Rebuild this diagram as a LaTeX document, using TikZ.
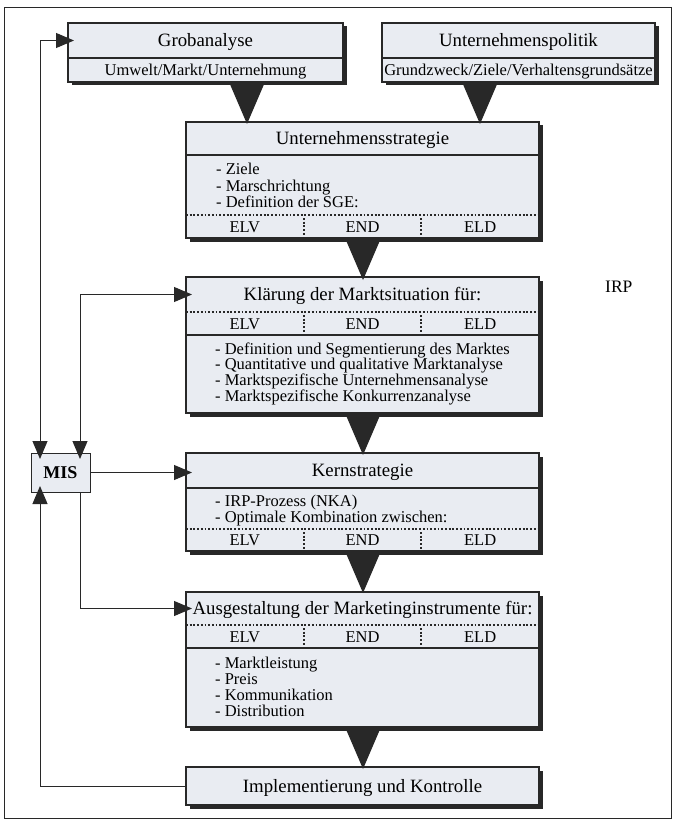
\documentclass[tikz,border=0pt]{standalone}
\usepackage{fontspec}
\setmainfont{Liberation Serif}
\usetikzlibrary{arrows.meta,shadows}

\definecolor{panelfill}{RGB}{233,236,242}
\definecolor{ink}{RGB}{40,40,40}

\tikzset{
  panel/.style={draw=ink, line width=1.2pt, fill=panelfill, anchor=north west,
    inner sep=0pt, outer sep=0pt,
    drop shadow={shadow xshift=3.5pt, shadow yshift=-3.5pt, opacity=1, fill=ink}},
  misbox/.style={draw=ink, line width=1pt, fill=panelfill, anchor=north west,
    inner sep=0pt, outer sep=0pt, font=\fontsize{18}{20}\selectfont\bfseries},
  titlecell/.style={anchor=north west, inner sep=0pt, outer sep=0pt,
    text height=12pt, text depth=0pt, font=\fontsize{18.8}{21}\selectfont},
  rowcell/.style={anchor=north west, inner sep=0pt, outer sep=0pt,
    text height=11pt, text depth=0pt, font=\fontsize{16.5}{18}\selectfont},
  listline/.style={anchor=base west, inner sep=0pt, font=\fontsize{16.5}{18}\selectfont},
  divider/.style={draw=ink, line width=1.2pt},
  dotrule/.style={draw=ink, line width=1.8pt, dash pattern=on 1.8pt off 1.9pt},
  flowtri/.style={fill=ink},
  feedline/.style={draw=ink, line width=1pt, -{Triangle[length=18pt,width=15pt]}, shorten >=-6pt},
  twoway/.style={feedline, {Triangle[length=18pt,width=15pt]}-{Triangle[length=18pt,width=15pt]}, shorten <=-6pt},
}

\begin{document}
\begin{tikzpicture}[x=1pt,y=-1pt]

        \useasboundingbox (0,0) rectangle (675,821);
        \draw[ink, line width=0.8pt] (4,7) rectangle (671,818);

        \def\boxw{353pt}
        \def\colw{117.67pt}

        % Grobanalyse
        \node[panel, minimum width=275pt, minimum height=59pt] (grob) at (68,23) {};
        \node[titlecell, minimum width=275pt, minimum height=35pt] (grobT) at (68,23) {Grobanalyse};
        \node[rowcell, minimum width=275pt, minimum height=24pt] (grobS) at (68,58) {Umwelt/Markt/Unternehmung};
        \draw[divider] (grobS.north west) -- (grobS.north east);

        % Unternehmenspolitik
        \node[panel, minimum width=273pt, minimum height=59pt] (upol) at (382,23) {};
        \node[titlecell, minimum width=273pt, minimum height=35pt] (upolT) at (382,23) {Unternehmenspolitik};
        \node[rowcell, minimum width=273pt, minimum height=24pt] (upolS) at (382,58) {Grundzweck/Ziele/Verhaltensgrundsätze};
        \draw[divider] (upolS.north west) -- (upolS.north east);

        % Unternehmensstrategie
        \node[panel, minimum width=\boxw, minimum height=116pt] (ustr) at (186,122) {};
        \node[titlecell, minimum width=\boxw, minimum height=33pt] (ustrT) at (186,122) {Unternehmensstrategie};
        \draw[divider] (ustrT.south west) -- (ustrT.south east);
        \foreach \txt [count=\i from 0] in {Ziele,Marschrichtung,Definition der SGE:}
          \node[listline] (ustr-l\i) at (216,175+16*\i) {- \txt};
        \foreach \lbl [count=\k from 0] in {ELV,END,ELD}
          \node[rowcell, minimum width=\colw, minimum height=23pt] (ustr-\lbl) at (186+117.67*\k,215) {\lbl};
        \draw[dotrule] (ustr-ELV.north west) -- (ustr-ELD.north east);
        \draw[dotrule, shorten <=3pt, shorten >=2pt] (ustr-ELV.north east) -- (ustr-ELV.south east);
        \draw[dotrule, shorten <=3pt, shorten >=2pt] (ustr-END.north east) -- (ustr-END.south east);

        % Klaerung der Marktsituation
        \node[panel, minimum width=\boxw, minimum height=136pt] (klar) at (186,277) {};
        \node[titlecell, minimum width=\boxw, minimum height=35pt] (klarT) at (186,277) {Klärung der Marktsituation für:};
        \foreach \lbl [count=\k from 0] in {ELV,END,ELD}
          \node[rowcell, minimum width=\colw, minimum height=23pt] (klar-\lbl) at (186+117.67*\k,312) {\lbl};
        \draw[dotrule] (klar-ELV.north west) -- (klar-ELD.north east);
        \draw[dotrule, shorten <=3pt, shorten >=2pt] (klar-ELV.north east) -- (klar-ELV.south east);
        \draw[dotrule, shorten <=3pt, shorten >=2pt] (klar-END.north east) -- (klar-END.south east);
        \draw[divider] (klar-ELV.south west) -- (klar-ELD.south east);
        \foreach \txt [count=\i from 0] in {Definition und Segmentierung des Marktes,
            Quantitative und qualitative Marktanalyse,
            Marktspezifische Unternehmensanalyse,
            Marktspezifische Konkurrenzanalyse}
          \node[listline] (klar-l\i) at (215,354+15.7*\i) {- \txt};

        % Kernstrategie
        \node[panel, minimum width=\boxw, minimum height=98pt] (kern) at (186,453) {};
        \node[titlecell, minimum width=\boxw, minimum height=35pt] (kernT) at (186,453) {Kernstrategie};
        \draw[divider] (kernT.south west) -- (kernT.south east);
        \foreach \txt [count=\i from 0] in {IRP-Prozess (NKA),Optimale Kombination zwischen:}
          \node[listline] (kern-l\i) at (215,506+16*\i) {- \txt};
        \foreach \lbl [count=\k from 0] in {ELV,END,ELD}
          \node[rowcell, minimum width=\colw, minimum height=22pt] (kern-\lbl) at (186+117.67*\k,529) {\lbl};
        \draw[dotrule] (kern-ELV.north west) -- (kern-ELD.north east);
        \draw[dotrule, shorten <=3pt, shorten >=2pt] (kern-ELV.north east) -- (kern-ELV.south east);
        \draw[dotrule, shorten <=3pt, shorten >=2pt] (kern-END.north east) -- (kern-END.south east);

        % Ausgestaltung der Marketinginstrumente
        \node[panel, minimum width=\boxw, minimum height=135pt] (ausg) at (186,592) {};
        \node[titlecell, minimum width=\boxw, minimum height=33pt] (ausgT) at (186,592) {Ausgestaltung der Marketinginstrumente für:};
        \foreach \lbl [count=\k from 0] in {ELV,END,ELD}
          \node[rowcell, minimum width=\colw, minimum height=23pt] (ausg-\lbl) at (186+117.67*\k,625) {\lbl};
        \draw[dotrule] (ausg-ELV.north west) -- (ausg-ELD.north east);
        \draw[dotrule, shorten <=3pt, shorten >=2pt] (ausg-ELV.north east) -- (ausg-ELV.south east);
        \draw[dotrule, shorten <=3pt, shorten >=2pt] (ausg-END.north east) -- (ausg-END.south east);
        \draw[divider] (ausg-ELV.south west) -- (ausg-ELD.south east);
        \foreach \txt [count=\i from 0] in {Marktleistung,Preis,Kommunikation,Distribution}
          \node[listline] (ausg-l\i) at (215,668+16.3*\i) {- \txt};

        % Implementierung
        \node[panel, minimum width=\boxw, minimum height=38pt] (impl) at (186,767) {};
        \node[titlecell, minimum width=\boxw, minimum height=38pt] (implT) at (186,767) {Implementierung und Kontrolle};

        % MIS and IRP
        \node[misbox, minimum width=59pt, minimum height=39pt] (mis) at (31,453) {MIS};
        \node[listline, font=\fontsize{17.5}{19}\selectfont] (irp) at (605,292) {IRP};

        % flow triangles
        \foreach \tx/\ty in {247/82,480/82,363/238,363/413,363/551,363/727}
          \fill[flowtri] (\tx-18,\ty) -- (\tx+18,\ty) -- (\tx,\ty+42) -- cycle;

        % MIS feedback
        \draw[twoway] (grobT.west) -| ([xshift=9pt]mis.north west);
        \draw[twoway] (klarT.west) -| ([xshift=-10pt]mis.north east);
        \draw[feedline] (mis.east) -- (mis.east -| kernT.west);
        \draw[feedline] ([xshift=-10pt]mis.south east) |- (ausgT.west);
        \draw[feedline] (implT.west) -| ([xshift=9pt]mis.south west);
    \end{tikzpicture}
\end{document}
